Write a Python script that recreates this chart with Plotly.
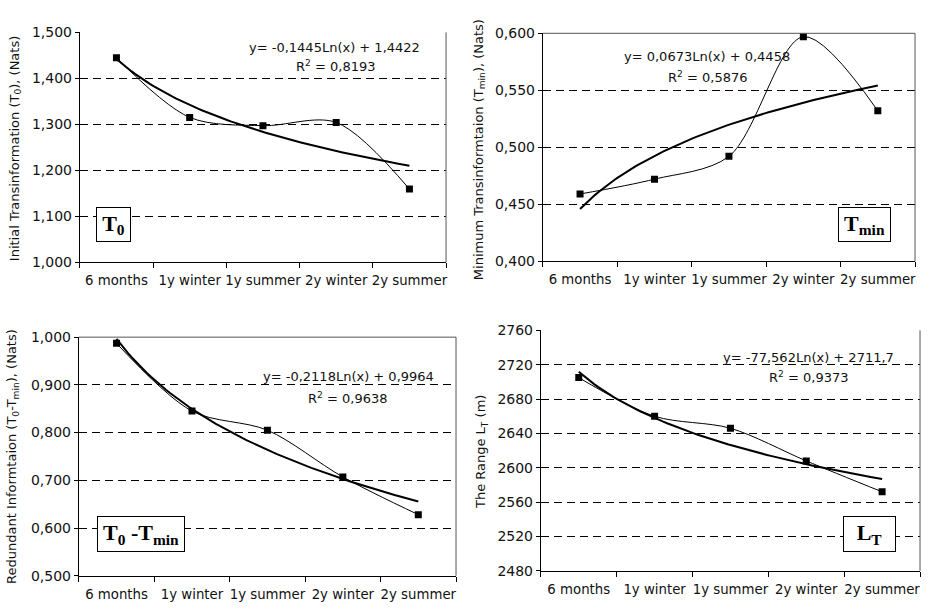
import numpy as np
import plotly.graph_objects as go

# ---------------- data ----------------
categories = ["6 months", "1y winter", "1y summer", "2y winter", "2y summer"]

t0_values = [1.445, 1.315, 1.297, 1.304, 1.159]
tmin_values = [0.459, 0.472, 0.492, 0.597, 0.532]
redundant_values = [0.987, 0.845, 0.805, 0.707, 0.628]
range_values = [2705, 2660, 2646, 2608, 2572]

# logarithmic trend coefficients (y = a*Ln(x) + b) as printed on the chart
t0_trend = [-0.1445, 1.4422]
tmin_trend = [0.0673, 0.4458]
redundant_trend = [-0.2118, 0.9964]
range_trend = [-77.562, 2711.7]

t0_eq = ["y= -0,1445Ln(x) + 1,4422", "R<sup>2</sup> = 0,8193"]
tmin_eq = ["y= 0,0673Ln(x) + 0,4458", "R<sup>2</sup> = 0,5876"]
redundant_eq = ["y= -0,2118Ln(x) + 0,9964", "R<sup>2</sup> = 0,9638"]
range_eq = ["y= -77,562Ln(x) + 2711,7", "R<sup>2</sup> = 0,9373"]

t0_ticks = [1.0, 1.1, 1.2, 1.3, 1.4, 1.5]
t0_ticktext = ["1,000", "1,100", "1,200", "1,300", "1,400", "1,500"]
tmin_ticks = [0.40, 0.45, 0.50, 0.55, 0.60]
tmin_ticktext = ["0,400", "0,450", "0,500", "0,550", "0,600"]
red_ticks = [0.5, 0.6, 0.7, 0.8, 0.9, 1.0]
red_ticktext = ["0,500", "0,600", "0,700", "0,800", "0,900", "1,000"]
range_ticks = [2480, 2520, 2560, 2600, 2640, 2680, 2720, 2760]
range_ticktext = [str(v) for v in range_ticks]

# ---------------- layout ----------------
W, H = 931, 611
TICKFONT = "'DejaVu Sans', sans-serif"
SERIF = "'Times New Roman', 'Liberation Serif', serif"

panels = [
    dict(vals=t0_values, trend=t0_trend, eq=t0_eq, ticks=t0_ticks, ticktext=t0_ticktext,
         yrange=[1.0, 1.5], px=(80, 447), py=(25, 261),
         eqpos=[(0.695, 0.936), (0.70, 0.852)],
         label="<b>T<sub>0</sub></b>", lpos=(0.091, 0.163), lsize=(33, 33),
         ytitle="Initial Transinformation (T<sub>0</sub>), (Nats)", tpos=(15, 144)),
    dict(vals=tmin_values, trend=tmin_trend, eq=tmin_eq, ticks=tmin_ticks, ticktext=tmin_ticktext,
         yrange=[0.4, 0.6], px=(544, 917), py=(26, 260),
         eqpos=[(0.442, 0.897), (0.445, 0.808)],
         label="<b>T<sub>min</sub></b>", lpos=(0.865, 0.160), lsize=(51, 33),
         ytitle="Minimum Transinformtaion (T<sub>min</sub>), (Nats)", tpos=(480, 145)),
    dict(vals=redundant_values, trend=redundant_trend, eq=redundant_eq, ticks=red_ticks,
         ticktext=red_ticktext, yrange=[0.5, 1.0], px=(79, 457), py=(338, 583),
         eqpos=[(0.714, 0.837), (0.714, 0.747)],
         label="<b>T<sub>0</sub> -T<sub>min</sub></b>", lpos=(0.164, 0.176), lsize=(86, 34),
         ytitle="Redundant Informtaion (T<sub>0</sub>-T<sub>min</sub>), (Nats)", tpos=(13, 460)),
    dict(vals=range_values, trend=range_trend, eq=range_eq, ticks=range_ticks,
         ticktext=range_ticktext, yrange=[2480, 2760], px=(542, 922), py=(331, 578),
         eqpos=[(0.705, 0.887), (0.708, 0.806)],
         label="<b>L<sub>T</sub></b>", lpos=(0.867, 0.154), lsize=(51, 34),
         ytitle="The Range L<sub>T</sub> (m)", tpos=(482, 456)),
]

fig = go.Figure()
xcat = np.arange(1, len(categories) + 1)
xfine = np.linspace(1, len(categories), 80)

annotations = []
shapes = []
layout_axes = {}

for i, p in enumerate(panels):
    n = i + 1
    xa = "x" if n == 1 else f"x{n}"
    ya = "y" if n == 1 else f"y{n}"
    xkey = "xaxis" if n == 1 else f"xaxis{n}"
    ykey = "yaxis" if n == 1 else f"yaxis{n}"

    # data (smoothed line + square markers)
    fig.add_trace(go.Scatter(
        x=xcat, y=p["vals"], xaxis=xa, yaxis=ya, mode="lines+markers",
        line=dict(color="black", width=1, shape="spline", smoothing=0.9),
        marker=dict(symbol="square", size=7, color="black"),
        showlegend=False, hoverinfo="skip"))
    # log trend line
    a, b = p["trend"]
    fig.add_trace(go.Scatter(
        x=xfine, y=a * np.log(xfine) + b, xaxis=xa, yaxis=ya, mode="lines",
        line=dict(color="black", width=2), showlegend=False, hoverinfo="skip"))

    x0, x1 = p["px"]
    y0, y1 = p["py"]
    layout_axes[xkey] = dict(
        domain=[x0 / W, x1 / W], anchor=ya, range=[0.5, len(categories) + 0.5],
        tickmode="array", tickvals=list(xcat), ticktext=categories, ticks="",
        tickangle=0, ticklabelstandoff=6,
        showgrid=False, zeroline=False, showline=True, linecolor="black", linewidth=1,
        tickfont=dict(family=TICKFONT, size=13.3, color="#111"),
        minor=dict(ticks="outside", tick0=0.5, dtick=1, ticklen=5, tickcolor="black",
                   showgrid=False),
        fixedrange=True)
    layout_axes[ykey] = dict(
        domain=[1 - y1 / H, 1 - y0 / H], anchor=xa, range=p["yrange"],
        tickmode="array", tickvals=p["ticks"], ticktext=p["ticktext"],
        ticks="outside", ticklen=4, tickcolor="black",
        showgrid=True, gridcolor="black", griddash="8px,5px", gridwidth=1,
        zeroline=False, showline=True, linecolor="black", linewidth=1,
        tickfont=dict(family=TICKFONT, size=14, color="#111"), fixedrange=True)

    # plot-area border (gray, right/top)
    shapes.append(dict(type="line", xref=f"{xa} domain", yref=f"{ya} domain",
                       x0=1, x1=1, y0=0, y1=1, line=dict(color="#555", width=1)))
    if i in (1, 2):
        shapes.append(dict(type="line", xref=f"{xa} domain", yref=f"{ya} domain",
                           x0=0, x1=1, y0=1, y1=1, line=dict(color="#555", width=1)))

    # equation text
    for (ex, ey), txt in zip(p["eqpos"], p["eq"]):
        annotations.append(dict(
            xref=f"{xa} domain", yref=f"{ya} domain", x=ex, y=ey, text=txt,
            showarrow=False, xanchor="center", yanchor="middle",
            font=dict(family=TICKFONT, size=13, color="#111")))

    # boxed label
    lx, ly = p["lpos"]
    annotations.append(dict(
        xref=f"{xa} domain", yref=f"{ya} domain", x=lx, y=ly, text=p["label"],
        showarrow=False, xanchor="center", yanchor="middle",
        width=p["lsize"][0], height=p["lsize"][1], bgcolor="white",
        bordercolor="black", borderwidth=1, borderpad=0,
        font=dict(family=SERIF, size=22, color="black")))

    # y-axis title
    tx, ty = p["tpos"]
    annotations.append(dict(
        xref="paper", yref="paper", x=tx / W, y=1 - ty / H, text=p["ytitle"],
        textangle=-90, showarrow=False, xanchor="center", yanchor="middle",
        font=dict(family=TICKFONT, size=13, color="#111")))

fig.update_layout(
    width=W, height=H, margin=dict(l=0, r=0, t=0, b=0),
    paper_bgcolor="white", plot_bgcolor="white",
    annotations=annotations, shapes=shapes, **layout_axes)

fig.write_html("out.html", config={"displayModeBar": False})
